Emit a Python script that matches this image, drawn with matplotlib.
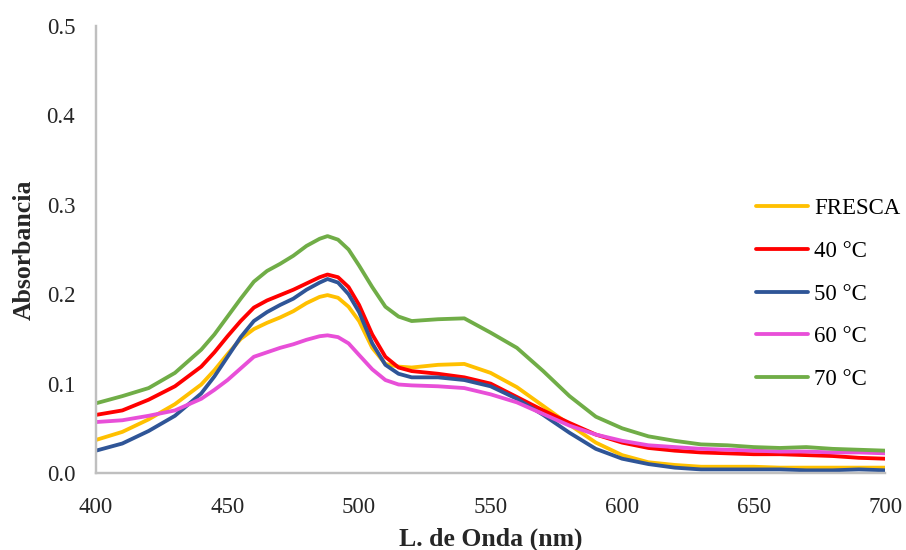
import matplotlib.pyplot as plt

plt.rcParams['font.family'] = ['Liberation Serif', 'DejaVu Serif']

wavelength = [400, 410, 420, 430, 440, 445, 450, 455, 460, 465, 470, 475, 480, 485, 488, 492, 496, 500,
              505, 510, 515, 520, 530, 540, 550, 560, 570, 580, 590, 600, 610, 620, 630, 640, 650, 660,
              670, 680, 690, 700]

fresca = [0.037, 0.046, 0.060, 0.077, 0.099, 0.115, 0.133, 0.150, 0.161, 0.168, 0.174, 0.181, 0.190, 0.197,
          0.199, 0.196, 0.186, 0.170, 0.140, 0.122, 0.119, 0.118, 0.121, 0.122, 0.112, 0.096, 0.075, 0.054,
          0.034, 0.020, 0.012, 0.009, 0.007, 0.007, 0.007, 0.006, 0.006, 0.006, 0.006, 0.006]
t40 = [0.065, 0.070, 0.082, 0.097, 0.119, 0.135, 0.153, 0.170, 0.185, 0.193, 0.199, 0.205, 0.212, 0.219,
       0.222, 0.219, 0.208, 0.188, 0.155, 0.130, 0.118, 0.114, 0.111, 0.107, 0.100, 0.085, 0.070, 0.056,
       0.043, 0.034, 0.028, 0.025, 0.023, 0.022, 0.021, 0.021, 0.020, 0.019, 0.017, 0.016]
t50 = [0.025, 0.033, 0.047, 0.064, 0.089, 0.108, 0.130, 0.152, 0.170, 0.180, 0.188, 0.195, 0.205, 0.213,
       0.217, 0.213, 0.200, 0.180, 0.145, 0.121, 0.111, 0.107, 0.107, 0.104, 0.097, 0.083, 0.065, 0.045,
       0.027, 0.016, 0.010, 0.006, 0.004, 0.004, 0.004, 0.004, 0.003, 0.003, 0.004, 0.003]
t60 = [0.057, 0.059, 0.064, 0.070, 0.083, 0.093, 0.104, 0.117, 0.130, 0.135, 0.140, 0.144, 0.149, 0.153,
       0.154, 0.152, 0.145, 0.132, 0.116, 0.104, 0.099, 0.098, 0.097, 0.095, 0.088, 0.079, 0.066, 0.053,
       0.043, 0.036, 0.031, 0.029, 0.027, 0.026, 0.025, 0.024, 0.024, 0.023, 0.023, 0.022]
t70 = [0.078, 0.086, 0.095, 0.112, 0.138, 0.155, 0.175, 0.195, 0.214, 0.226, 0.234, 0.243, 0.254, 0.262,
       0.265, 0.261, 0.250, 0.232, 0.208, 0.186, 0.175, 0.170, 0.172, 0.173, 0.157, 0.140, 0.114, 0.086,
       0.063, 0.050, 0.041, 0.036, 0.032, 0.031, 0.029, 0.028, 0.029, 0.027, 0.026, 0.025]

labels = ["FRESCA", "40 °C", "50 °C", "60 °C", "70 °C"]
series = [fresca, t40, t50, t60, t70]
colors = ["#FFC000", "#FF0000", "#2F5597", "#E84FD8", "#70AD47"]

fig = plt.figure(figsize=(9.06, 5.5), dpi=100)
ax = fig.add_axes([0.106, 0.14, 0.871, 0.8127])

for y, lab, c in zip(series, labels, colors):
    ax.plot(wavelength, y, color=c, linewidth=2.75, label=lab,
            solid_capstyle='round', solid_joinstyle='round')

ax.set_xlim(400, 700)
ax.set_ylim(0, 0.5)
ax.set_xticks([400, 450, 500, 550, 600, 650, 700])
ax.set_yticks([0, 0.1, 0.2, 0.3, 0.4, 0.5])
ax.set_yticklabels(["0.0", "0.1", "0.2", "0.3", "0.4", "0.5"])
ax.tick_params(axis="x", length=0, labelsize=16.5, labelcolor="#262626", pad=17)
ax.tick_params(axis="y", length=0, labelsize=16.5, labelcolor="#262626", pad=15)

for s in ["top", "right"]:
    ax.spines[s].set_visible(False)
for s in ["left", "bottom"]:
    ax.spines[s].set_color("#BFBFBF")
    ax.spines[s].set_linewidth(1.75)

ax.set_xlabel("L. de Onda (nm)", fontsize=18.5, fontweight="bold", color="#262626", labelpad=7)
ax.set_ylabel("Absorbancia", fontsize=18.5, fontweight="bold", color="#262626", labelpad=8)

fig.legend(loc="upper left", bbox_to_anchor=(0.8344, 0.640), frameon=False, fontsize=16.5,
           handlelength=2.27, labelspacing=0.95, handletextpad=0.26, borderpad=0, borderaxespad=0)

fig.savefig("out.png", dpi=100)
